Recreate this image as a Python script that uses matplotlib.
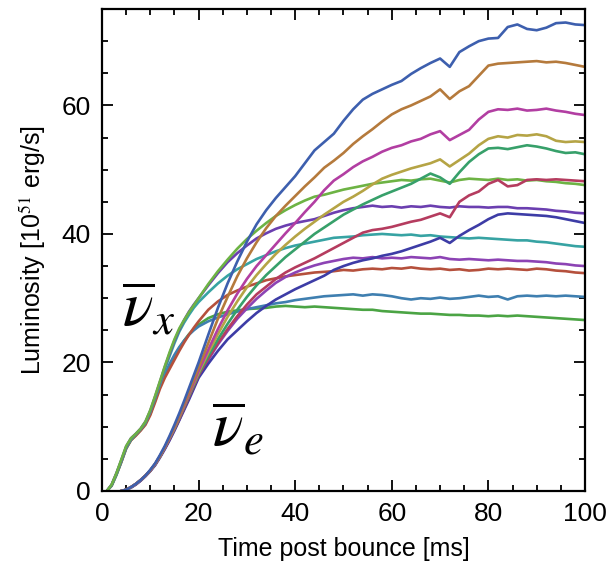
import numpy as np
import matplotlib
matplotlib.use("Agg")
import matplotlib.pyplot as plt
from matplotlib.ticker import MultipleLocator

nan = np.nan

# Time post bounce [ms]: 1 ms steps up to 20 ms, 2 ms steps afterwards
time_ms = np.concatenate([np.arange(0, 21), np.arange(22, 101, 2)])

# Anti-electron neutrino luminosities [1e51 erg/s]
nue_blue = [nan, nan, nan, nan, 0, 0.2, 0.6, 1.1, 1.7, 2.4, 3.3, 4.3, 5.6, 7.0, 8.6, 10.3, 12.1, 14.0, 16.0, 18.0, 20.0,
            24.3, 28.5, 32.3, 35.7, 38.8, 41.5, 43.7, 45.6, 47.3, 49.0, 51.0, 53.0, 54.3, 55.6, 57.6, 59.4, 60.9, 61.8, 62.5, 63.2,
            63.8, 64.9, 65.8, 66.6, 67.3, 66.0, 68.3, 69.2, 70.0, 70.4, 70.5, 72.2, 72.6, 71.9, 71.7, 72.1, 72.8, 72.9, 72.6, 72.5]
nue_orange = [nan, nan, nan, nan, 0, 0.2, 0.6, 1.1, 1.7, 2.4, 3.2, 4.2, 5.4, 6.8, 8.4, 10.0, 11.7, 13.5, 15.4, 17.3, 19.2,
              23.0, 26.8, 30.2, 33.4, 36.2, 38.7, 40.9, 42.8, 44.4, 45.9, 47.4, 48.8, 50.3, 51.4, 52.6, 54.0, 55.2, 56.3, 57.5, 58.6,
              59.4, 60.0, 60.7, 61.4, 62.5, 61.0, 62.2, 63.0, 64.6, 66.2, 66.5, 66.6, 66.7, 66.8, 66.9, 66.7, 66.8, 66.6, 66.3, 66.0]
nue_magenta = [nan, nan, nan, nan, 0, 0.2, 0.6, 1.1, 1.7, 2.4, 3.2, 4.2, 5.4, 6.8, 8.3, 9.9, 11.6, 13.3, 15.1, 16.9, 18.7,
               22.0, 25.2, 28.1, 30.7, 33.0, 35.0, 36.7, 38.4, 40.1, 41.7, 43.4, 45.0, 46.8, 48.3, 49.3, 50.4, 51.3, 52.0, 52.8, 53.4,
               53.8, 54.4, 54.8, 55.5, 56.0, 54.6, 55.4, 56.2, 57.8, 59.0, 59.4, 59.3, 59.5, 59.2, 59.3, 59.5, 59.2, 59.0, 58.7, 58.5]
nue_olive = [nan, nan, nan, nan, 0, 0.2, 0.6, 1.1, 1.7, 2.4, 3.2, 4.2, 5.4, 6.8, 8.3, 9.8, 11.5, 13.2, 15.0, 16.7, 18.4,
             21.5, 24.4, 27.1, 29.5, 31.7, 33.6, 35.3, 36.9, 38.3, 39.6, 40.8, 41.9, 43.0, 44.0, 45.0, 45.8, 46.7, 47.7, 48.6, 49.2,
             49.7, 50.2, 50.6, 51.0, 51.6, 50.5, 51.5, 52.5, 53.8, 54.8, 55.2, 55.0, 55.4, 55.3, 55.5, 55.2, 54.5, 54.3, 54.4, 54.3]
nue_seagreen = [nan, nan, nan, nan, 0, 0.2, 0.6, 1.1, 1.7, 2.4, 3.2, 4.2, 5.4, 6.8, 8.2, 9.7, 11.4, 13.1, 14.8, 16.5, 18.2,
                21.0, 23.6, 26.0, 28.2, 30.2, 32.0, 33.6, 35.0, 36.4, 37.6, 38.8, 40.0, 41.0, 42.0, 43.0, 43.8, 44.6, 45.3, 46.0, 46.6,
                47.2, 47.8, 48.6, 49.4, 48.8, 47.8, 49.6, 51.2, 52.4, 53.3, 53.4, 53.2, 53.5, 53.8, 53.6, 53.3, 52.9, 52.6, 52.7, 52.4]
nue_crimson = [nan, nan, nan, nan, 0, 0.2, 0.6, 1.1, 1.7, 2.4, 3.2, 4.2, 5.4, 6.7, 8.1, 9.6, 11.2, 12.9, 14.6, 16.3, 18.0,
               20.6, 23.0, 25.2, 27.2, 29.0, 30.6, 31.8, 33.0, 34.0, 34.8, 35.5, 36.2, 37.0, 37.8, 38.6, 39.4, 40.2, 40.6, 40.8, 41.1,
               41.5, 41.9, 42.2, 42.7, 43.2, 42.6, 45.0, 46.0, 46.6, 47.8, 48.4, 47.4, 47.6, 48.4, 48.5, 48.4, 48.5, 48.4, 48.3, 48.2]
nue_indigo = [nan, nan, nan, nan, 0, 0.2, 0.5, 1.0, 1.6, 2.3, 3.1, 4.0, 5.2, 6.5, 7.9, 9.4, 11.0, 12.6, 14.2, 15.9, 17.6,
              19.8, 21.8, 23.6, 25.0, 26.4, 27.7, 28.8, 29.8, 30.6, 31.4, 32.1, 32.8, 33.5, 34.4, 35.0, 35.5, 35.9, 36.2, 36.6, 36.9,
              37.3, 37.8, 38.3, 38.8, 39.4, 38.6, 39.7, 40.6, 41.4, 42.3, 43.0, 43.2, 43.1, 43.0, 42.9, 42.8, 42.6, 42.3, 42.0, 41.7]
nue_violet = [nan, nan, nan, nan, 0, 0.2, 0.6, 1.0, 1.6, 2.3, 3.1, 4.1, 5.3, 6.6, 8.0, 9.5, 11.1, 12.8, 14.5, 16.2, 17.8,
              20.4, 22.8, 24.9, 26.8, 28.4, 29.9, 31.2, 32.4, 33.3, 34.0, 34.6, 35.1, 35.5, 35.8, 36.1, 36.3, 36.2, 36.4, 36.2, 36.3,
              36.2, 36.4, 36.3, 36.2, 36.4, 36.1, 36.0, 36.1, 36.0, 35.9, 36.0, 35.9, 35.8, 35.8, 35.7, 35.6, 35.4, 35.3, 35.1, 35.0]

# Heavy-lepton anti-neutrino luminosities [1e51 erg/s]
nux_lightgreen = [nan, 0, 1.0, 2.8, 4.9, 7.0, 8.2, 8.9, 9.7, 10.8, 12.6, 14.8, 17.1, 19.4, 21.6, 23.6, 25.3, 26.6, 27.8, 28.9, 30.0,
                  32.2, 34.2, 36.0, 37.7, 39.2, 40.5, 41.7, 42.8, 43.7, 44.5, 45.2, 45.8, 46.1, 46.5, 46.9, 47.2, 47.5, 47.8, 48.0, 48.2,
                  48.4, 48.3, 48.5, 48.6, 48.3, 48.0, 48.4, 48.6, 48.5, 48.4, 48.6, 48.4, 48.5, 48.3, 48.4, 48.2, 48.1, 47.9, 47.8, 47.6]
nux_purple = [nan, 0, 1.0, 2.8, 4.8, 6.9, 8.2, 8.9, 9.7, 10.8, 12.5, 14.7, 17.0, 19.3, 21.4, 23.4, 25.1, 26.6, 27.9, 29.0, 30.0,
              32.0, 33.9, 35.6, 37.0, 38.2, 39.3, 40.1, 40.8, 41.3, 41.7, 42.0, 42.3, 42.8, 43.3, 43.7, 44.0, 44.2, 44.4, 44.2, 44.3,
              44.1, 44.3, 44.2, 44.4, 44.2, 44.1, 44.3, 44.2, 44.2, 44.1, 44.2, 44.2, 44.0, 44.0, 43.9, 43.8, 43.6, 43.5, 43.3, 43.2]
nux_teal = [nan, 0, 0.9, 2.6, 4.6, 6.7, 8.0, 8.8, 9.6, 10.6, 12.3, 14.4, 16.6, 18.9, 21.0, 23.0, 24.8, 26.2, 27.4, 28.5, 29.4,
            30.9, 32.3, 33.5, 34.5, 35.3, 36.1, 36.7, 37.3, 37.8, 38.2, 38.5, 38.8, 39.1, 39.4, 39.5, 39.6, 39.8, 39.9, 40.0, 39.9,
            39.8, 39.9, 39.7, 39.8, 39.6, 39.5, 39.4, 39.3, 39.4, 39.3, 39.2, 39.1, 39.0, 39.0, 38.8, 38.7, 38.5, 38.3, 38.1, 38.0]
nux_brown = [nan, 0, 0.9, 2.6, 4.5, 6.6, 7.9, 8.6, 9.4, 10.3, 11.8, 13.8, 15.9, 17.6, 19.0, 20.4, 21.8, 23.1, 24.3, 25.4, 26.4,
             28.2, 29.5, 30.5, 31.2, 31.8, 32.3, 32.8, 33.1, 33.4, 33.6, 33.8, 34.0, 34.1, 34.2, 34.4, 34.3, 34.5, 34.6, 34.5, 34.7,
             34.6, 34.8, 34.6, 34.5, 34.6, 34.4, 34.5, 34.3, 34.4, 34.6, 34.5, 34.6, 34.5, 34.4, 34.6, 34.5, 34.3, 34.2, 34.0, 33.9]
nux_steelblue = [nan, 0, 0.9, 2.7, 4.7, 6.8, 8.1, 8.8, 9.5, 10.5, 12.1, 14.2, 16.4, 18.2, 19.8, 21.2, 22.4, 23.4, 24.3, 25.0, 25.6,
                 26.4, 27.0, 27.5, 27.9, 28.3, 28.6, 28.9, 29.2, 29.4, 29.7, 29.9, 30.1, 30.3, 30.4, 30.5, 30.6, 30.4, 30.6, 30.5, 30.3,
                 30.0, 29.8, 30.0, 29.9, 30.1, 29.9, 30.0, 30.2, 30.4, 30.2, 30.3, 29.8, 30.3, 30.4, 30.3, 30.4, 30.3, 30.4, 30.3, 30.2]
nux_green = [nan, 0, 0.8, 2.5, 4.5, 6.6, 7.9, 8.7, 9.5, 10.5, 12.0, 14.1, 16.3, 18.0, 19.5, 20.9, 22.2, 23.4, 24.4, 25.2, 25.9,
             26.9, 27.5, 27.9, 28.1, 28.3, 28.4, 28.5, 28.7, 28.8, 28.7, 28.6, 28.7, 28.6, 28.5, 28.4, 28.3, 28.2, 28.2, 28.0, 27.9,
             27.8, 27.7, 27.6, 27.6, 27.5, 27.4, 27.4, 27.3, 27.3, 27.2, 27.3, 27.2, 27.3, 27.2, 27.1, 27.0, 26.9, 26.8, 26.7, 26.6]

series = [
    (nux_green, "#4ba444"),
    (nux_steelblue, "#3f7fb0"),
    (nux_brown, "#b5503c"),
    (nue_violet, "#8c43b4"),
    (nux_teal, "#37a3a3"),
    (nue_indigo, "#3d3ca6"),
    (nux_purple, "#6b3fb0"),
    (nux_lightgreen, "#6db344"),
    (nue_crimson, "#b53c5f"),
    (nue_seagreen, "#37a06a"),
    (nue_olive, "#b5a445"),
    (nue_magenta, "#b23ea2"),
    (nue_orange, "#b57a3c"),
    (nue_blue, "#3d5fae"),
]

plt.rcParams["font.family"] = ["Liberation Sans", "DejaVu Sans"]
plt.rcParams["mathtext.fontset"] = "stix"

fig = plt.figure(figsize=(6.13, 5.75), dpi=100)
ax = fig.add_axes([0.1664, 0.1461, 0.7879, 0.8382])

for values, color in series:
    ax.plot(time_ms, values, color=color, lw=1.9, solid_joinstyle="round")

ax.set_xlim(0, 100)
ax.set_ylim(0, 75)
ax.xaxis.set_major_locator(MultipleLocator(20))
ax.xaxis.set_minor_locator(MultipleLocator(5))
ax.yaxis.set_major_locator(MultipleLocator(20))
ax.yaxis.set_minor_locator(MultipleLocator(5))
ax.tick_params(which="both", direction="in", top=True, right=True, width=1.3, colors="black")
ax.tick_params(which="major", length=8, labelsize=19, pad=8)
ax.tick_params(which="minor", length=4.5)
for s in ax.spines.values():
    s.set_linewidth(1.6)

ax.set_xlabel("Time post bounce [ms]", fontsize=18, labelpad=8)
ax.set_ylabel(r"Luminosity [10$^{51}$ erg/s]", fontsize=18, labelpad=10)

ax.text(4.2, 28.3, r"$\overline{\nu}_{x}$", fontsize=46, ha="left", va="center")
ax.text(22.8, 9.6, r"$\overline{\nu}_{e}$", fontsize=46, ha="left", va="center")

fig.savefig("out.png", dpi=100)
